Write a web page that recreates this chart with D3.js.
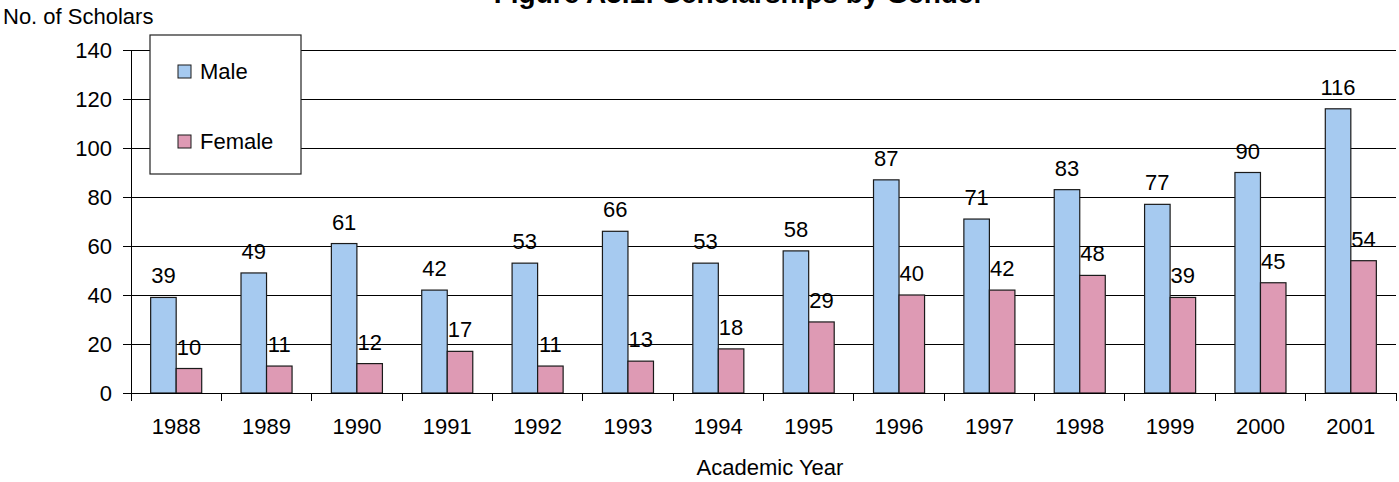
<!DOCTYPE html>
<html>
<head>
<meta charset="utf-8">
<script src="https://cdn.jsdelivr.net/npm/d3@7"></script>
<style>
  html, body { margin: 0; padding: 0; background: #fff; }
  svg text { font-family: "Liberation Sans", Arial, sans-serif; fill: #000; }
</style>
</head>
<body>
<svg id="chart" width="1399" height="482"></svg>
<script>
// data
const years = ['1988', '1989', '1990', '1991', '1992', '1993', '1994',
               '1995', '1996', '1997', '1998', '1999', '2000', '2001'];
const male = [39, 49, 61, 42, 53, 66, 53, 58, 87, 71, 83, 77, 90, 116];
const female = [10, 11, 12, 17, 11, 13, 18, 29, 40, 42, 48, 39, 45, 54];
const seriesNames = ['Male', 'Female'];
const yTicks = [0, 20, 40, 60, 80, 100, 120, 140];

const colors = {Male: '#a6caf0', Female: '#de9ab4'};

const svg = d3.select('#chart');

const margin = {top: 50, right: 3, bottom: 89, left: 131},
    width = 1399 - margin.left - margin.right,
    height = 482 - margin.top - margin.bottom;

const g = svg.append('g')
  .attr('transform', 'translate(' + margin.left + ',' + margin.top + ')');

const x0 = d3.scaleBand()
  .domain(years)
  .range([0, width])
  .padding(0);

const x1 = d3.scaleBand()
  .domain(seriesNames)
  .range([0, x0.bandwidth()])
  .paddingInner(0)
  .paddingOuter(0.77);

const y = d3.scaleLinear()
  .domain([0, 140])
  .range([height, 0]);

const rows = years.map((yr, i) => ({year: yr, values: [
  {name: 'Male', value: male[i]},
  {name: 'Female', value: female[i]}
]}));

// gridlines
g.append('g')
  .selectAll('line')
  .data(yTicks.filter(d => d > 0))
  .enter().append('line')
  .attr('x1', 0)
  .attr('x2', width)
  .attr('y1', d => y(d))
  .attr('y2', d => y(d))
  .attr('stroke', '#000')
  .attr('stroke-width', 1)
  .attr('shape-rendering', 'crispEdges');

// y axis
const yAxis = g.append('g')
  .call(d3.axisLeft(y).tickValues(yTicks).tickSize(8).tickPadding(11));
yAxis.select('.domain').attr('stroke', '#000').attr('shape-rendering', 'crispEdges');
yAxis.selectAll('line').attr('stroke', '#000').attr('shape-rendering', 'crispEdges');
yAxis.selectAll('text').style('font-size', '22px').attr('dy', '0.35em');

// bars
const groups = g.selectAll('.year')
  .data(rows)
  .enter().append('g')
  .attr('class', 'year')
  .attr('transform', d => 'translate(' + x0(d.year) + ',0)');

groups.selectAll('rect')
  .data(d => d.values)
  .enter().append('rect')
  .attr('x', d => x1(d.name))
  .attr('y', d => y(d.value))
  .attr('width', x1.bandwidth())
  .attr('height', d => y(0) - y(d.value))
  .attr('fill', d => colors[d.name])
  .attr('stroke', '#1a1a1a')
  .attr('stroke-width', 1.2);

groups.selectAll('.lbl')
  .data(d => d.values)
  .enter().append('text')
  .attr('class', 'lbl')
  .attr('x', d => x1(d.name) + x1.bandwidth() / 2)
  .attr('y', d => y(d.value) - 14)
  .attr('text-anchor', 'middle')
  .style('font-size', '22px')
  .text(d => d.value);

// x axis
const xAxis = g.append('g')
  .attr('transform', 'translate(0,' + height + ')')
  .call(d3.axisBottom(x0).tickSize(0).tickPadding(0));
xAxis.select('.domain').remove();
xAxis.selectAll('text').style('font-size', '22px').attr('dy', null).attr('y', 41);

g.append('line')
  .attr('x1', 0).attr('x2', width)
  .attr('y1', height).attr('y2', height)
  .attr('stroke', '#000')
  .attr('shape-rendering', 'crispEdges');

g.append('g')
  .selectAll('line')
  .data(d3.range(years.length + 1))
  .enter().append('line')
  .attr('x1', i => i * x0.step())
  .attr('x2', i => i * x0.step())
  .attr('y1', height)
  .attr('y2', height + 8)
  .attr('stroke', '#000')
  .attr('shape-rendering', 'crispEdges');

// legend
const legend = svg.append('g').attr('transform', 'translate(150,35)');
legend.append('rect')
  .attr('width', 151)
  .attr('height', 139)
  .attr('fill', '#fff')
  .attr('stroke', '#222')
  .attr('stroke-width', 1.2);

const items = legend.selectAll('.item')
  .data(seriesNames)
  .enter().append('g')
  .attr('class', 'item')
  .attr('transform', (d, i) => 'translate(28,' + (30 + i * 70) + ')');

items.append('rect')
  .attr('width', 13)
  .attr('height', 13)
  .attr('fill', d => colors[d])
  .attr('stroke', '#1a1a1a')
  .attr('stroke-width', 1);

items.append('text')
  .attr('x', 22)
  .attr('y', 14)
  .style('font-size', '22px')
  .text(d => d);

// titles
svg.append('text')
  .attr('x', 739)
  .attr('y', 3)
  .attr('text-anchor', 'middle')
  .style('font-size', '28px')
  .style('font-weight', 'bold')
  .text('Figure A5.1: Scholarships by Gender');

svg.append('text')
  .attr('x', 3)
  .attr('y', 24)
  .style('font-size', '22px')
  .text('No. of Scholars');

svg.append('text')
  .attr('x', 770)
  .attr('y', 475)
  .attr('text-anchor', 'middle')
  .style('font-size', '22px')
  .text('Academic Year');
</script>
</body>
</html>
